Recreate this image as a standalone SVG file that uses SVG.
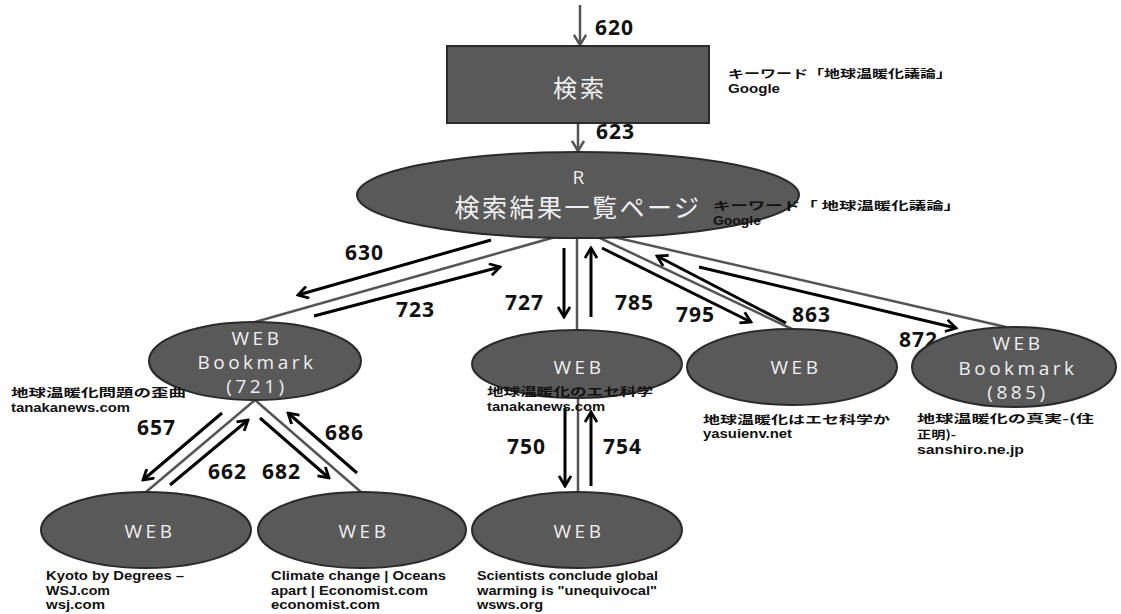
<svg xmlns="http://www.w3.org/2000/svg" width="1121" height="614" viewBox="0 0 1121 614">
<style>
.node{fill:#595959;stroke:#2a2a2a;stroke-width:2}
.nt{font-family:"Open Sans","Liberation Sans",sans-serif;font-size:19px;fill:#f0f0f0;letter-spacing:3.5px;text-anchor:middle}
.jt{font-family:"Noto Sans CJK JP",sans-serif;fill:#f0f0f0;text-anchor:middle}
.num{font-family:"Open Sans","Liberation Sans",sans-serif;font-size:21px;font-weight:bold;fill:#111;letter-spacing:1px}
.lb{font-family:"Liberation Sans","Noto Sans CJK JP",sans-serif;font-size:12px;font-weight:bold;fill:#111}
.lj{font-family:"Noto Sans CJK JP",sans-serif;font-size:11.5px;font-weight:bold;fill:#111}
.gl{stroke:#555;stroke-width:2.5;fill:none}
.ar{stroke:#000;stroke-width:3;fill:none;marker-end:url(#ah)}
.ga{stroke:#555;stroke-width:2.5;fill:none;marker-end:url(#gh)}
</style>
<defs>
<marker id="ah" viewBox="0 0 14 14" refX="12" refY="7" markerWidth="14" markerHeight="14" markerUnits="userSpaceOnUse" orient="auto"><path d="M2,1 L12,7 L2,13" fill="none" stroke="#000" stroke-width="2.8"/></marker>
<marker id="gh" viewBox="0 0 14 14" refX="12" refY="7" markerWidth="14" markerHeight="14" markerUnits="userSpaceOnUse" orient="auto"><path d="M2,1 L12,7 L2,13" fill="none" stroke="#555" stroke-width="2.5"/></marker>
</defs>
<rect width="1121" height="614" fill="#fff"/>
<g id="connectors">
<line class="ga" x1="580" y1="5" x2="580" y2="45"/>
<line class="ga" x1="578" y1="124" x2="578" y2="151"/>
<line class="gl" x1="580" y1="230" x2="255" y2="322"/>
<line class="gl" x1="577" y1="230" x2="577" y2="330"/>
<line class="gl" x1="583" y1="230" x2="792" y2="329"/>
<line class="gl" x1="583" y1="230" x2="1006" y2="327"/>
<line class="gl" x1="578" y1="398" x2="578" y2="492"/>
<line class="gl" x1="255" y1="400" x2="146" y2="492"/>
<line class="gl" x1="255" y1="400" x2="361" y2="492"/>
<line class="ar" x1="491" y1="240" x2="298" y2="295"/>
<line class="ar" x1="314" y1="316" x2="500" y2="267"/>
<line class="ar" x1="564" y1="248" x2="564" y2="317"/>
<line class="ar" x1="591" y1="317" x2="591" y2="248"/>
<line class="ar" x1="602" y1="248" x2="751" y2="322"/>
<line class="ar" x1="786" y1="323" x2="657" y2="256"/>
<line class="ar" x1="699" y1="267" x2="956" y2="328"/>
<line class="ar" x1="222" y1="413" x2="143" y2="480"/>
<line class="ar" x1="170" y1="485" x2="248" y2="420"/>
<line class="ar" x1="260" y1="418" x2="329" y2="478"/>
<line class="ar" x1="357" y1="473" x2="288" y2="413"/>
<line class="ar" x1="565" y1="408" x2="565" y2="486"/>
<line class="ar" x1="591" y1="486" x2="591" y2="412"/>
</g>
<g id="labels-num">
<text class="num" x="595" y="35">620</text>
<text class="num" x="596" y="139">623</text>
<text class="num" x="345" y="260">630</text>
<text class="num" x="396" y="317">723</text>
<text class="num" x="505" y="310">727</text>
<text class="num" x="615" y="310">785</text>
<text class="num" x="676" y="322">795</text>
<text class="num" x="792" y="322">863</text>
<text class="num" x="899" y="347">872</text>
<text class="num" x="137" y="435">657</text>
<text class="num" x="325" y="440">686</text>
<text class="num" x="208" y="479">662</text>
<text class="num" x="262" y="479">682</text>
<text class="num" x="507" y="454">750</text>
<text class="num" x="603" y="454">754</text>
</g>
<g id="search">
<rect class="node" x="447" y="46" width="262" height="77"/>
<text class="jt" x="580" y="97" font-size="24" letter-spacing="3">検索</text>
</g>
<g id="results">
<ellipse class="node" cx="578" cy="195" rx="221" ry="43"/>
<text class="nt" x="580" y="184" font-size="18" letter-spacing="0">R</text>
<text class="jt" x="578" y="217" font-size="25" letter-spacing="2.5">検索結果一覧ページ</text>
</g>
<g id="bm721">
<ellipse class="node" cx="255" cy="361" rx="106" ry="39"/>
<text class="nt" x="257" y="345">WEB</text>
<text class="nt" x="257" y="369">Bookmark</text>
<text class="nt" x="257" y="393">(721)</text>
</g>
<g id="web727">
<ellipse class="node" cx="577" cy="364" rx="105" ry="34"/>
<text class="nt" x="579" y="374">WEB</text>
</g>
<g id="web795">
<ellipse class="node" cx="792" cy="367" rx="105" ry="38"/>
<text class="nt" x="796" y="374">WEB</text>
</g>
<g id="bm885">
<ellipse class="node" cx="1014" cy="367" rx="102" ry="40"/>
<text class="nt" x="1018" y="350">WEB</text>
<text class="nt" x="1018" y="375">Bookmark</text>
<text class="nt" x="1018" y="399">(885)</text>
</g>
<g id="web657">
<ellipse class="node" cx="146" cy="530" rx="105" ry="38"/>
<text class="nt" x="150" y="538">WEB</text>
</g>
<g id="web682">
<ellipse class="node" cx="362" cy="530" rx="104" ry="38"/>
<text class="nt" x="364" y="538">WEB</text>
</g>
<g id="web750">
<ellipse class="node" cx="577" cy="530" rx="105" ry="38"/>
<text class="nt" x="579" y="538">WEB</text>
</g>
<g id="notes">
<text class="lj" x="728" y="78" textLength="224" lengthAdjust="spacingAndGlyphs">キーワード「地球温暖化議論」</text>
<text class="lb" x="728" y="93" textLength="52" lengthAdjust="spacingAndGlyphs">Google</text>
<text class="lj" x="713" y="210" textLength="248" lengthAdjust="spacingAndGlyphs">キーワード「 地球温暖化議論」</text>
<text class="lb" x="713" y="225" textLength="48" lengthAdjust="spacingAndGlyphs">Google</text>
<text class="lj" x="11" y="397" textLength="175" lengthAdjust="spacingAndGlyphs">地球温暖化問題の歪曲</text>
<text class="lb" x="11" y="412" textLength="119" lengthAdjust="spacingAndGlyphs">tanakanews.com</text>
<text class="lj" x="487" y="396" textLength="166" lengthAdjust="spacingAndGlyphs">地球温暖化のエセ科学</text>
<text class="lb" x="487" y="411" textLength="118" lengthAdjust="spacingAndGlyphs">tanakanews.com</text>
<text class="lj" x="703" y="424" textLength="187" lengthAdjust="spacingAndGlyphs">地球温暖化はエセ科学か</text>
<text class="lb" x="703" y="438" textLength="89" lengthAdjust="spacingAndGlyphs">yasuienv.net</text>
<text class="lj" x="917" y="423" textLength="177" lengthAdjust="spacingAndGlyphs">地球温暖化の真実-(住</text>
<text class="lj" x="917" y="439" textLength="39" lengthAdjust="spacingAndGlyphs">正明)-</text>
<text class="lb" x="917" y="454" textLength="107" lengthAdjust="spacingAndGlyphs">sanshiro.ne.jp</text>
<text class="lb" x="46" y="580" textLength="138" lengthAdjust="spacingAndGlyphs">Kyoto by Degrees –</text>
<text class="lb" x="46" y="595" textLength="64" lengthAdjust="spacingAndGlyphs">WSJ.com</text>
<text class="lb" x="46" y="609" textLength="59" lengthAdjust="spacingAndGlyphs">wsj.com</text>
<text class="lb" x="271" y="580" textLength="175" lengthAdjust="spacingAndGlyphs">Climate change | Oceans</text>
<text class="lb" x="271" y="595" textLength="157" lengthAdjust="spacingAndGlyphs">apart | Economist.com</text>
<text class="lb" x="271" y="609" textLength="109" lengthAdjust="spacingAndGlyphs">economist.com</text>
<text class="lb" x="477" y="580" textLength="181" lengthAdjust="spacingAndGlyphs">Scientists conclude global</text>
<text class="lb" x="477" y="595" textLength="180" lengthAdjust="spacingAndGlyphs">warming is "unequivocal"</text>
<text class="lb" x="477" y="609" textLength="66" lengthAdjust="spacingAndGlyphs">wsws.org</text>
</g>
</svg>
